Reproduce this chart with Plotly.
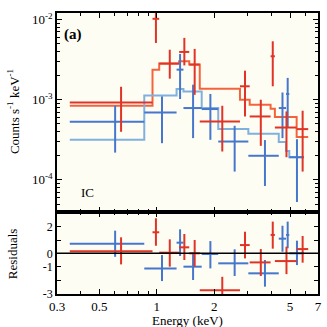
import plotly.graph_objects as go

# ---- data ----
# red spectrum: bin edges (keV), rate, upper / lower error limits, model
red_edges = [0.35, 0.95, 1.03, 1.31, 1.48, 1.68, 2.73, 3.07, 3.95, 4.16, 5.41, 6.22]
red_rate = [9.25e-4, 1.02e-2, 2.82e-3, 3.94e-3, 2.74e-3, 5.36e-4, 1.47e-3, 6.18e-4, 3.48e-3, 4.5e-4, 4.3e-4]
red_hi = [1.45e-3, 2.0e-2, 4.2e-3, 5.9e-3, 4.3e-3, 8.4e-4, 2.3e-3, 1.0e-3, 5.35e-3, 7.14e-4, 7.29e-4]
red_lo = [3.98e-4, 5.1e-3, 1.83e-3, 2.68e-3, 1.15e-3, 2.26e-4, 6.18e-4, 2.66e-4, 1.47e-3, 1.92e-4, 1.27e-4]
red_model = [8.41e-4, 2.37e-3, 2.82e-3, 3.01e-3, 2.74e-3, 1.37e-3, 1.0e-3, 8.66e-4, 7.72e-4, 6.08e-4, 3.42e-4]
red_res = [0.15, 1.58, 0.05, 0.45, 0.0, -2.76, 0.62, -0.68, 1.38, -0.58, 0.32]
red_res_hi = [1.2, 2.63, 1.05, 1.45, 1.0, -1.76, 1.62, 0.32, 2.38, 0.5, 1.3]
red_res_lo = [-0.83, 0.57, -1.0, -0.5, -1.0, -3.76, -0.38, -1.7, 0.35, -1.56, -0.7]

# blue spectrum
blue_edges = [0.35, 0.86, 1.27, 1.38, 1.72, 2.10, 3.02, 4.36, 4.76, 4.95, 5.91]
blue_rate = [5.31e-4, 6.95e-4, 2.37e-3, 7.87e-4, 7.65e-4, 3.01e-4, 2.0e-4, 7.87e-4, 1.18e-3, 1.92e-4]
blue_hi = [8.41e-4, 1.1e-3, 3.72e-3, 1.54e-3, 1.18e-3, 4.73e-4, 3.14e-4, 1.23e-3, 1.87e-3, 3.22e-4]
blue_lo = [2.19e-4, 2.87e-4, 1.02e-3, 3.32e-4, 3.16e-4, 1.27e-4, 8.4e-5, 3.32e-4, 4.5e-4, 5.3e-5]
blue_model = [3.16e-4, 1.13e-3, 1.36e-3, 1.27e-3, 7.87e-4, 4.3e-4, 3.76e-4, 2.96e-4, 2.3e-4, 1.92e-4]
blue_res = [0.72, -1.13, 0.8, -1.0, -0.05, -0.75, -1.5, 1.1, 1.38, 0.0]
blue_res_hi = [1.7, -0.13, 1.8, 0.0, 0.92, 0.3, -0.5, 2.07, 2.38, 0.95]
blue_res_lo = [-0.26, -2.08, -0.2, -2.0, -1.13, -1.7, -2.5, 0.12, 0.38, -0.88]

x_ticks = [0.3, 0.5, 1, 2, 5, 7]
x_minor = [0.4, 0.6, 0.7, 0.8, 0.9, 3, 4, 6]

RED, RED_M = "#e03426", "#f4643c"
BLUE, BLUE_M = "#4677cc", "#80b0de"
FONT = "Liberation Serif"


def spectrum(fig, edges, rate, hi, lo, color, xaxis, yaxis):
    cen = [(a + b) / 2 for a, b in zip(edges[:-1], edges[1:])]
    fig.add_scatter(
        x=cen, y=rate, mode="markers", xaxis=xaxis, yaxis=yaxis,
        marker=dict(size=1, color=color),
        error_x=dict(type="data", symmetric=False,
                     array=[b - c for b, c in zip(edges[1:], cen)],
                     arrayminus=[c - a for a, c in zip(edges[:-1], cen)],
                     color=color, thickness=2, width=0),
        error_y=dict(type="data", symmetric=False,
                     array=[h - r for h, r in zip(hi, rate)],
                     arrayminus=[r - l for r, l in zip(rate, lo)],
                     color=color, thickness=2, width=0),
        showlegend=False, hoverinfo="skip")


def model(fig, edges, vals, color):
    fig.add_scatter(x=edges, y=vals + vals[-1:], mode="lines", line_shape="hv",
                    line=dict(color=color, width=2), xaxis="x2", yaxis="y2",
                    showlegend=False, hoverinfo="skip")


fig = go.Figure()
model(fig, red_edges, red_model, RED_M)
model(fig, blue_edges, blue_model, BLUE_M)
spectrum(fig, blue_edges, blue_rate, blue_hi, blue_lo, BLUE, "x2", "y2")
spectrum(fig, red_edges, red_rate, red_hi, red_lo, RED, "x2", "y2")
spectrum(fig, blue_edges, blue_res, blue_res_hi, blue_res_lo, BLUE, "x", "y")
spectrum(fig, red_edges, red_res, red_res_hi, red_res_lo, RED, "x", "y")

split = 82 / 281
axis_common = dict(showline=True, linecolor="black", linewidth=1.5, mirror="ticks",
                   ticks="inside", tickcolor="black", tickwidth=1, showgrid=False,
                   zeroline=False, automargin=False,
                   tickfont=dict(family=FONT, size=13, color="black"))
x_minor_style = dict(tickvals=x_minor, ticks="inside", ticklen=3, tickcolor="black")

fig.update_layout(
    width=327, height=327,
    margin=dict(l=57, r=9, t=13, b=33),
    paper_bgcolor="white", plot_bgcolor="#fdfdf4",
    xaxis=dict(type="log", range=[-0.5229, 0.8451], tickvals=x_ticks,
               ticktext=[str(v) for v in x_ticks], ticklen=5,
               minor=x_minor_style, anchor="y", **axis_common),
    yaxis=dict(domain=[0, split], range=[-3.05, 3.1], tickvals=[2, 1, 0, -1, -2, -3],
               ticktext=["2", "", "0", "-1", "", "-3"], ticklen=4, anchor="x",
               **axis_common),
    xaxis2=dict(type="log", range=[-0.5229, 0.8451], tickvals=x_ticks, ticklen=5,
                showticklabels=False, anchor="y2", minor=x_minor_style, **axis_common),
    yaxis2=dict(domain=[split, 1], type="log", range=[-4.4, -1.919],
                tickvals=[1e-4, 1e-3, 1e-2],
                ticktext=["10<sup>-4</sup>", "10<sup>-3</sup>", "10<sup>-2</sup>"],
                ticklen=5, anchor="x2",
                minor=dict(ticks="inside", ticklen=3, tickcolor="black", dtick="D1"),
                **axis_common),
)
# slightly smaller residual labels so "0" and "-1" do not touch
fig.update_layout(yaxis_tickfont_size=12)

fig.add_shape(type="line", xref="x domain", yref="y", x0=0, x1=1, y0=0, y1=0,
              line=dict(color="black", width=1.5))

ann_font = dict(family=FONT, size=13, color="black")
fig.add_annotation(text="Counts s<sup>-1</sup> keV<sup>-1</sup>", textangle=-90,
                   xref="paper", yref="paper", x=-0.168, y=0.648,
                   xanchor="center", yanchor="middle", showarrow=False, font=ann_font)
fig.add_annotation(text="Residuals", textangle=-90, xref="paper", yref="paper",
                   x=-0.172, y=0.142, xanchor="center", yanchor="middle",
                   showarrow=False, font=ann_font)
fig.add_annotation(text="Energy (keV)", xref="paper", yref="paper", x=0.5,
                   y=-0.094, xanchor="center", yanchor="middle", showarrow=False,
                   font=ann_font)
fig.add_annotation(text="<b>(a)</b>", xref="paper", yref="paper", x=0.018, y=0.925,
                   xanchor="left", yanchor="middle", showarrow=False,
                   font=dict(family=FONT, size=15, color="black"))
fig.add_annotation(text="IC", xref="paper", yref="paper", x=0.085, y=0.36,
                   xanchor="left", yanchor="middle", showarrow=False, font=ann_font)

# page has a default body margin; remove it so the figure sits at the window origin
fig.write_html("out.html", config={"displayModeBar": False},
               post_script="document.body.style.margin='0';")
